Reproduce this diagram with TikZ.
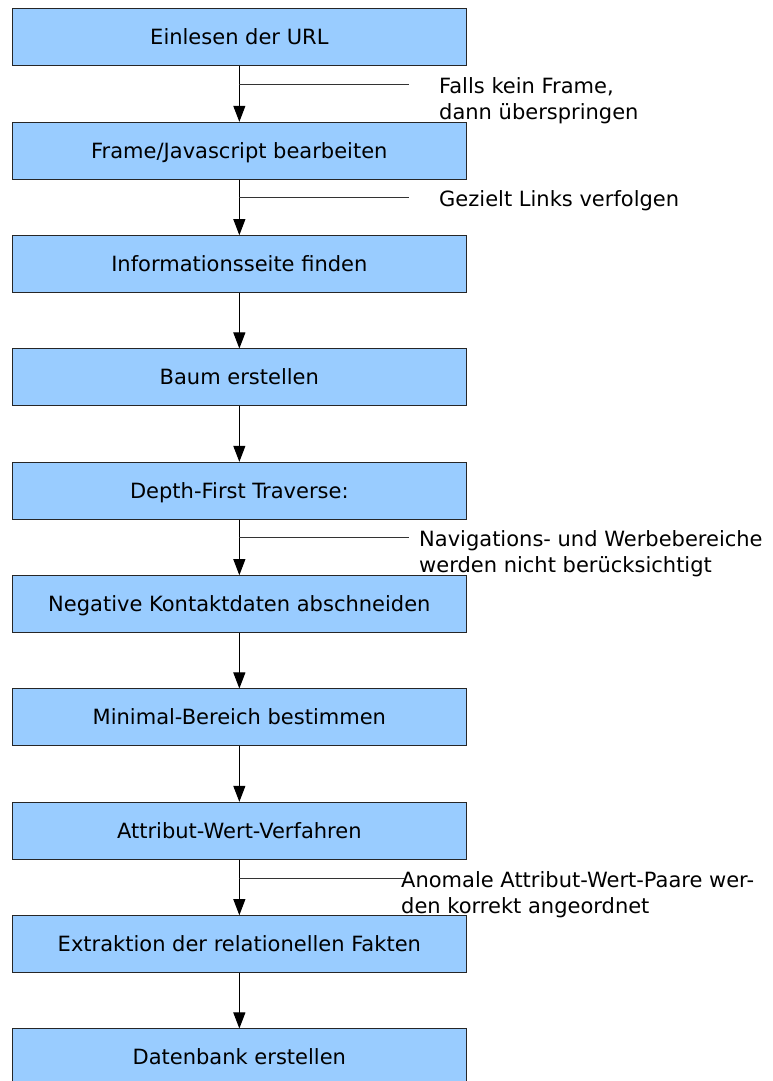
\documentclass[tikz,border=0pt]{standalone}
\usepackage{fontspec}
\setmainfont{DejaVu Sans}
\usetikzlibrary{arrows.meta}
\definecolor{boxfill}{HTML}{99CCFF}
\begin{document}
\begin{tikzpicture}[x=1pt,y=-1pt,
  stepbox/.style={draw=black!85, fill=boxfill, line width=1pt,
    minimum width=453.3pt, minimum height=56.7pt, inner sep=0pt,
    text height=15.3pt, text depth=0pt, font=\fontsize{21}{25}\selectfont},
  flow/.style={draw=black, line width=1pt, -{Triangle[length=16pt,width=12pt]}},
  branch/.style={draw=black!80, line width=1pt},
  note/.style={anchor=north west, inner sep=0pt, align=left,
    font=\fontsize{21}{26.5}\selectfont}]
\useasboundingbox (0,0) rectangle (773,1081);

% process steps
\node[stepbox] (b1)  at (239.35,37.33)   {Einlesen der URL};
\node[stepbox] (b2)  at (239.35,150.67)  {Frame/Javascript bearbeiten};
\node[stepbox] (b3)  at (239.35,264.0)   {Informationsseite finden};
\node[stepbox] (b4)  at (239.35,377.33)  {Baum erstellen};
\node[stepbox] (b5)  at (239.35,490.67)  {Depth-First Traverse:};
\node[stepbox] (b6)  at (239.35,604.0)   {Negative Kontaktdaten abschneiden};
\node[stepbox] (b7)  at (239.35,717.33)  {Minimal-Bereich bestimmen};
\node[stepbox] (b8)  at (239.35,830.67)  {Attribut-Wert-Verfahren};
\node[stepbox] (b9)  at (239.35,944.0)   {Extraktion der relationellen Fakten};
\node[stepbox] (b10) at (239.35,1057.33) {Datenbank erstellen};

% arrows between steps
\foreach \a/\b in {b1/b2,b2/b3,b3/b4,b4/b5,b5/b6,b6/b7,b7/b8,b8/b9,b9/b10}
  \draw[flow] (\a.south) -- (\b.north);

% side remarks
\node[note] (n1) at (439,74.25)  {\strut Falls kein Frame,\\dann überspringen};
\node[note] (n2) at (439,187.65) {\strut Gezielt Links verfolgen};
\node[note] (n3) at (419,527.65) {\strut Navigations- und Werbebereiche\\werden nicht berücksichtigt};
\node[note] (n4) at (401,868.25) {\strut Anomale Attribut-Wert-Paare wer-\\den korrekt angeordnet};

\coordinate (e1) at (409,84.3);
\coordinate (e2) at (409,197.7);
\coordinate (e3) at (409,537.7);
\coordinate (e4) at (405,878.3);
\draw[branch] (e1 -| b1.south) -- (e1);
\draw[branch] (e2 -| b2.south) -- (e2);
\draw[branch] (e3 -| b5.south) -- (e3);
\draw[branch] (e4 -| b8.south) -- (e4);
\end{tikzpicture}
\end{document}
